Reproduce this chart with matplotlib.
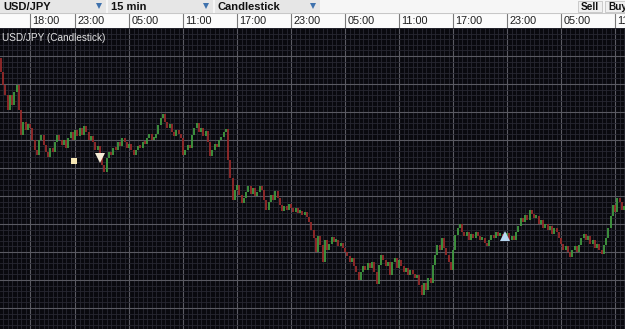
import numpy as np
import pandas as pd
import matplotlib
matplotlib.use('Agg')
import matplotlib.pyplot as plt

plt.rcParams['font.family'] = ['Liberation Sans', 'DejaVu Sans']

#
# data
#
symbol = 'USD/JPY'
interval = '15 min'
chart_type = 'Candlestick'
start_time = '2013-06-10 14:45'
first_open = 103.42

close = [
    103.28, 103.15, 103.05, 102.90, 103.05, 102.95, 103.08, 103.15, 102.90, 102.65,
    102.78, 102.70, 102.76, 102.72, 102.60, 102.50, 102.45, 102.60, 102.65, 102.55,
    102.48, 102.43, 102.52, 102.48, 102.58, 102.65, 102.60, 102.55, 102.60, 102.52,
    102.62, 102.68, 102.60, 102.70, 102.64, 102.72, 102.65, 102.74, 102.68, 102.60,
    102.64, 102.58, 102.50, 102.54, 102.45, 102.35, 102.28, 102.42, 102.48, 102.45,
    102.52, 102.50, 102.58, 102.54, 102.62, 102.58, 102.52, 102.56, 102.50, 102.45,
    102.50, 102.54, 102.52, 102.58, 102.56, 102.62, 102.66, 102.60, 102.62, 102.66,
    102.75, 102.82, 102.86, 102.78, 102.72, 102.76, 102.68, 102.64, 102.70, 102.66,
    102.62, 102.45, 102.50, 102.55, 102.52, 102.65, 102.72, 102.77, 102.68, 102.72,
    102.64, 102.69, 102.58, 102.44, 102.50, 102.56, 102.53, 102.60, 102.63, 102.68,
    102.71, 102.40, 102.22, 102.00, 102.10, 102.15, 102.05, 101.97, 102.02, 102.08,
    102.14, 102.06, 102.12, 102.04, 102.08, 102.14, 102.10, 102.00, 101.90, 101.98,
    102.05, 102.00, 102.09, 102.02, 101.95, 101.89, 101.94, 101.90, 101.96, 101.92,
    101.88, 101.92, 101.87, 101.89, 101.85, 101.88, 101.83, 101.78, 101.70, 101.62,
    101.48, 101.64, 101.55, 101.38, 101.60, 101.50, 101.56, 101.63, 101.58, 101.60,
    101.54, 101.57, 101.52, 101.48, 101.44, 101.38, 101.42, 101.34, 101.28, 101.20,
    101.28, 101.34, 101.30, 101.37, 101.32, 101.38, 101.28, 101.16, 101.35, 101.45,
    101.40, 101.34, 101.38, 101.25, 101.38, 101.42, 101.32, 101.40, 101.34, 101.28,
    101.32, 101.25, 101.30, 101.26, 101.22, 101.25, 101.15, 101.05, 101.17, 101.10,
    101.22, 101.17, 101.35, 101.45, 101.55, 101.50, 101.62, 101.52, 101.45, 101.38,
    101.30, 101.50, 101.65, 101.72, 101.76, 101.68, 101.64, 101.68, 101.60, 101.66,
    101.62, 101.68, 101.64, 101.60, 101.62, 101.57, 101.54, 101.60, 101.65, 101.62,
    101.68, 101.64, 101.66, 101.62, 101.64, 101.67, 101.60, 101.64, 101.60, 101.68,
    101.74, 101.82, 101.78, 101.85, 101.80, 101.90, 101.86, 101.82, 101.84, 101.76,
    101.80, 101.72, 101.76, 101.70, 101.74, 101.66, 101.72, 101.68, 101.62, 101.56,
    101.50, 101.54, 101.48, 101.43, 101.50, 101.54, 101.48, 101.55, 101.62, 101.66,
    101.60, 101.64, 101.56, 101.60, 101.52, 101.56, 101.50, 101.46, 101.55, 101.62,
    101.72, 101.84, 101.95, 101.88, 102.02, 101.98, 101.90, 101.94,
]

tick_labels = ['18:00', '23:00', '05:00', '11:00', '17:00', '23:00',
               '05:00', '11:00', '17:00', '23:00', '05:00', '11:00']

# trade markers: candle index, price, kind
marker_idx = [32.5, 44, 224]
marker_price = [102.39, 102.42, 101.64]
marker_kind = ['s', 'v', '^']
marker_color = ['#f6e7b4', '#f4ecd6', '#b9d9f2']

#
# prepare
#
times = pd.date_range(start_time, periods=len(close), freq='15min')
opens = [first_open] + close[:-1]
idx = np.arange(len(close))

tick_pos = []
j = 0
for lab in tick_labels:
    while times[j].strftime('%H:%M') != lab:
        j += 1
    tick_pos.append(j)
    j += 1

W, H = 625, 329
fig = plt.figure(figsize=(W / 100, H / 100), dpi=100)
fig.patch.set_facecolor('#09090e')

xlim = (-1 / 3, (W - 0.75) / 2.25)

#
# main chart
#
ax = fig.add_axes([0, 0, 1, 301 / H])
ax.set_facecolor('#09090e')
ax.set_xlim(*xlim)
ax.set_ylim(100.71, 103.72)

ax.set_xticks(tick_pos)
ax.set_xticks(np.arange(1, len(close), 2), minor=True)
ax.set_yticks(np.arange(100.92, 103.72, 0.28))
ax.set_yticks(np.arange(100.752, 103.72, 0.056), minor=True)
ax.grid(which='minor', color='#272731', lw=0.6)
ax.grid(which='major', color='#5a5a62', lw=0.8)
ax.tick_params(which='both', length=0, labelbottom=False, labelleft=False)
for s in ax.spines.values():
    s.set_visible(False)

o = np.array(opens)
c = np.array(close)
up = c >= o
lo = np.minimum(o, c)
hi = np.maximum(o, c)
hi = np.where(hi - lo < 0.03, lo + 0.03, hi)
ax.vlines(idx[up], lo[up], hi[up], color='#409a40', lw=1.3)
ax.vlines(idx[~up], lo[~up], hi[~up], color='#962a2a', lw=1.3)

for mi, mp, mk, mc in zip(marker_idx, marker_price, marker_kind, marker_color):
    ax.plot(mi, mp, marker=mk, color=mc, markersize=7 if mk != 's' else 4.5,
            markeredgewidth=0, linestyle='none')

ax.text(0.003, 0.985, symbol + ' (' + chart_type + ')', transform=ax.transAxes,
        color='#e2e2e2', fontsize=7.2, va='top', ha='left')

#
# time axis strip
#
tx = fig.add_axes([0, 301 / H, 1, 15 / H])
tx.set_facecolor('#fbfbfb')
tx.set_xlim(*xlim)
tx.set_ylim(0, 1)
tx.vlines(tick_pos, 0, 1, color='#7a7a7a', lw=0.8)
for p, lab in zip(tick_pos, tick_labels):
    tx.text(p + 1.0, 0.45, lab, fontsize=7.8, color='#1e1e1e', va='center', ha='left')
tx.axhline(1, color='#c8c8c8', lw=0.8)
tx.set_xticks([])
tx.set_yticks([])
for s in tx.spines.values():
    s.set_visible(False)

#
# toolbar
#
tb = fig.add_axes([0, 316 / H, 1, 13 / H])
tb.set_facecolor('#f6f6f6')
tb.set_xlim(0, W)
tb.set_ylim(13, 0)
tb.set_xticks([])
tb.set_yticks([])
for s in tb.spines.values():
    s.set_visible(False)

boxes = [(0, 106, symbol), (108, 213, interval), (215, 320, chart_type)]
for x0, x1, lab in boxes:
    tb.add_patch(plt.Rectangle((x0, 0), x1 - x0, 13, color='#e6e6e6', lw=0))
    tb.text(x0 + 3, 6.5, lab, fontsize=8, fontweight='bold', color='#111111',
            va='center', ha='left')
    tb.plot(x1 - 7, 5.5, marker='v', color='#3f72ad', markersize=5, markeredgewidth=0)

for x0, x1, lab in [(578, 602, 'Sell'), (605, 630, 'Buy')]:
    tb.add_patch(plt.Rectangle((x0, 0.5), x1 - x0, 11.5, facecolor='#f0f0f0',
                               edgecolor='#c4c4c4', lw=0.6))
    tb.text(x0 + 3, 6.5, lab, fontsize=7.2, fontweight='bold', color='#111111',
            va='center', ha='left')

plt.savefig('out.png', dpi=100, facecolor=fig.get_facecolor())
plt.close()
